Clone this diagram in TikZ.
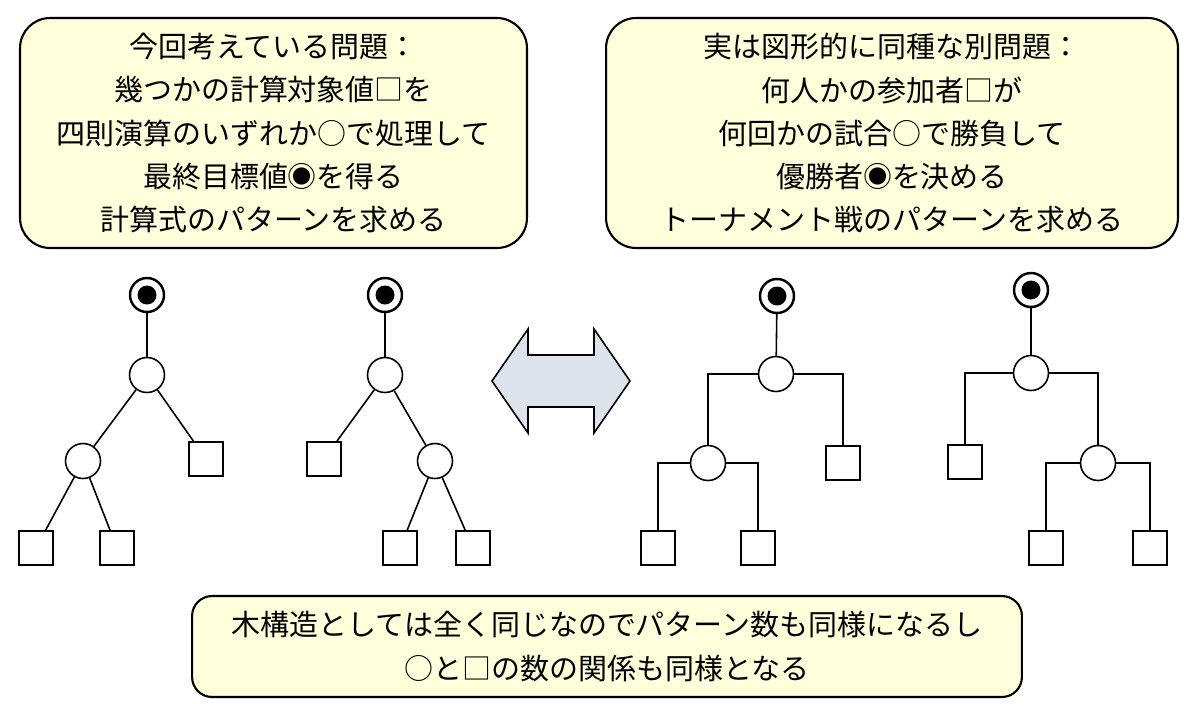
\documentclass[tikz,border=0pt]{standalone}
\usepackage{fontspec}
\newfontfamily\jp{Noto Sans CJK JP}
\usetikzlibrary{positioning}
\definecolor{notebg}{RGB}{255,255,219}
\definecolor{arrowbg}{RGB}{221,227,236}

\begin{document}
\begin{tikzpicture}[x=0.02cm, y=-0.02cm,
        note/.style={draw, line width=1.2pt, fill=notebg, rounded corners=0.6cm,
            align=center, font=\jp\fontsize{16.5}{24.5}\selectfont, inner sep=0pt},
        goal/.style={circle, draw, line width=1.4pt, minimum size=0.68cm, inner sep=0pt,
            path picture={\fill (path picture bounding box.center) circle (0.19cm);}},
        op/.style={circle, draw, line width=0.9pt, minimum size=0.7cm, inner sep=0pt, fill=white},
        val/.style={draw, line width=0.9pt, minimum size=0.68cm, inner sep=0pt, fill=white},
        link/.style={line width=0.9pt}]
    \useasboundingbox (0,0) rectangle (1200,714);

    % problem boxes
    \node [note, minimum width=10.14cm, minimum height=4.6cm] (problem) at (273.5,133)
        {今回考えている問題：\\幾つかの計算対象値□を\\四則演算のいずれか○で処理して\\最終目標値◉を得る\\計算式のパターンを求める};
    \node [note, minimum width=11.44cm, minimum height=4.6cm] (other) at (892,133)
        {実は図形的に同種な別問題：\\何人かの参加者□が\\何回かの試合○で勝負して\\優勝者◉を決める\\トーナメント戦のパターンを求める};
    \node [note, rounded corners=0.4cm, minimum width=16.6cm, minimum height=2.02cm] (summary) at (607,646.5)
        {木構造としては全く同じなのでパターン数も同様になるし\\○と□の数の関係も同様となる};

    % double arrow
    \filldraw [fill=arrowbg, line width=0.9pt] (492,381) -- (528,329) -- (528,355) -- (594,355)
        -- (594,329) -- (630,381) -- (594,433) -- (594,407) -- (528,407) -- (528,433) -- cycle;

    % calculation trees
    \node [goal] (goal1) at (147,295) {};
    \node [op] (op1) at (147,375) {};
    \node [op] (op1l) at (83,461) {};
    \node [val] (val1r) at (206,459) {};
    \node [val] (val1ll) at (36,548) {};
    \node [val] (val1lr) at (117,548) {};

    \draw [link] (goal1) -- (op1);
    \draw [link] (op1) -- (op1l);
    \draw [link] (op1) -- (val1r);
    \draw [link] (op1l) -- (val1ll);
    \draw [link] (op1l) -- (val1lr);

    \node [goal] (goal2) at (385,295) {};
    \node [op] (op2) at (385,375) {};
    \node [val] (val2l) at (324,459) {};
    \node [op] (op2r) at (435,461) {};
    \node [val] (val2rl) at (400,548) {};
    \node [val] (val2rr) at (473,548) {};

    \draw [link] (goal2) -- (op2);
    \draw [link] (op2) -- (val2l);
    \draw [link] (op2) -- (op2r);
    \draw [link] (op2r) -- (val2rl);
    \draw [link] (op2r) -- (val2rr);

    % tournament trees
    \node [goal] (goal3) at (777,296) {};
    \node [op] (op3) at (776,374) {};
    \node [op] (op3l) at (708,463) {};
    \node [val] (val3r) at (843,463) {};
    \node [val] (val3ll) at (658,548) {};
    \node [val] (val3lr) at (758,548) {};

    \draw [link] (goal3) -- (op3);
    \draw [link] (op3.west) -| (op3l);
    \draw [link] (op3.east) -| (val3r);
    \draw [link] (op3l.west) -| (val3ll);
    \draw [link] (op3l.east) -| (val3lr);

    \node [goal] (goal4) at (1031,290) {};
    \node [op] (op4) at (1031,373) {};
    \node [val] (val4l) at (965,462) {};
    \node [op] (op4r) at (1098,463) {};
    \node [val] (val4rl) at (1046,548) {};
    \node [val] (val4rr) at (1150,548) {};

    \draw [link] (goal4) -- (op4);
    \draw [link] (op4.west) -| (val4l);
    \draw [link] (op4.east) -| (op4r);
    \draw [link] (op4r.west) -| (val4rl);
    \draw [link] (op4r.east) -| (val4rr);
\end{tikzpicture}
\end{document}
